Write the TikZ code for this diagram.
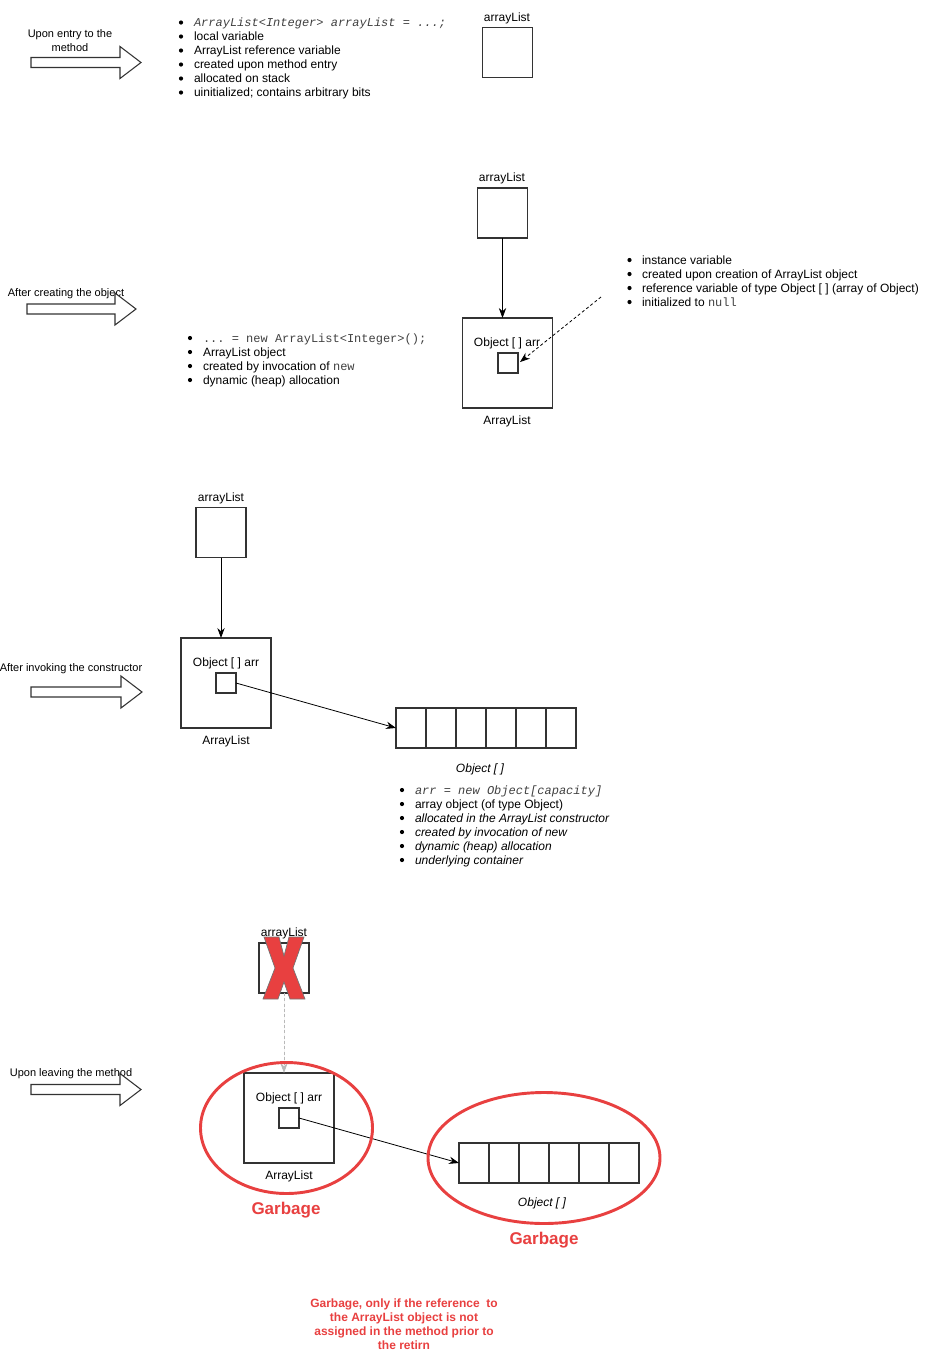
\documentclass[tikz,border=0pt]{standalone}
\usepackage{fontspec}
\setmainfont{Liberation Sans}
\setmonofont{Liberation Mono}
\usetikzlibrary{arrows.meta,calc}
\definecolor{gred}{RGB}{232,64,64}
\definecolor{lgray}{RGB}{185,185,185}
\newcommand\harrow[3]{%
  \draw[hollow] (#1,{#3-5}) -- ({#2-21},{#3-5}) -- ({#2-21},{#3-16}) -- (#2,#3)
    -- ({#2-21},{#3+16}) -- ({#2-21},{#3+5}) -- (#1,{#3+5}) -- cycle;}
\begin{document}
\begin{tikzpicture}[x=0.75pt,y=-0.75pt,
 every node/.style={inner sep=0pt, outer sep=0pt},
 lab/.style={font=\fontsize{9}{10.5}\selectfont, text height=6.5pt, text depth=1.8pt},
 side/.style={font=\fontsize{8.25}{10.5}\selectfont, align=center},
 item/.style={font=\fontsize{9}{10.5}\selectfont, anchor=base west},
 box/.style={draw=black!80, line width=0.9pt, rectangle, fill=white},
 varbox/.style={box, minimum width=37.5pt, minimum height=37.5pt},
 objbox/.style={box, minimum width=67.5pt, minimum height=67.5pt},
 slot/.style={box, minimum width=15pt, minimum height=15pt},
 cell/.style={box, minimum width=22.5pt, minimum height=30pt},
 ptr/.style={-{Stealth[length=7.5pt,width=5.5pt]}, line width=0.6pt},
 hollow/.style={draw=black!80, line width=0.8pt, fill=white},
 garb/.style={draw=gred, line width=2.2pt},
 gtext/.style={text=gred, font=\bfseries\fontsize{12.75}{14}\selectfont}
]
\useasboundingbox (0,0) rectangle (927,1354);

% ---------------- Section 1 ----------------
\node[side] (t1) at (70,41) {Upon entry to the\\method};
\harrow{31}{141}{62.5}
\foreach \t [count=\i] in {{{\ttfamily\itshape\color{black!75}ArrayList<Integer> arrayList = ...;}},
  local variable, ArrayList reference variable, created upon method entry,
  allocated on stack, uinitialized; contains arbitrary bits} {
  \fill (181,{22.5+14*(\i-1)}) circle (2.1);
  \node[item] (la\i) at (194,{22.5+14*(\i-1)+4.3}) {\t};
}
\node[varbox] (v1) at (507.5,52.5) {};
\node[lab] (v1l) at (507,18) {arrayList};

% ---------------- Section 2 ----------------
\node[side] (t2) at (66,294) {After creating the object};
\harrow{27}{136}{309}
\node[varbox] (v2) at (502.5,213) {};
\node[lab] (v2l) at (502,178) {arrayList};
\node[objbox] (o2) at (507.5,363) {};
\node[lab] (o2t) at (507,343) {Object [ ] arr};
\node[slot] (s2) at (508,363) {};
\node[lab] (o2l) at (507,421) {ArrayList};
\draw[ptr] (v2.south) -- (v2.south |- o2.north);
\coordinate (d0) at (601,297);
\draw[ptr, dash pattern=on 2.2pt off 1.8pt] (d0) -- ($(s2.east)+(2,-1)$);
\foreach \t [count=\i] in {{{\ttfamily\color{black!75}... = new ArrayList<Integer>();}},
  ArrayList object, {created by invocation of {\ttfamily\color{black!75}new}},
  dynamic (heap) allocation} {
  \fill (190,{338+14*(\i-1)}) circle (2.1);
  \node[item] (lb\i) at (203,{338+14*(\i-1)+4.3}) {\t};
}
\foreach \t [count=\i] in {instance variable, created upon creation of ArrayList object,
  reference variable of type Object [ ] (array of Object),
  {initialized to {\ttfamily\color{black!75}null}}} {
  \fill (629.5,{260+14*(\i-1)}) circle (2.1);
  \node[item] (lc\i) at (642,{260+14*(\i-1)+4.3}) {\t};
}

% ---------------- Section 3 ----------------
\node[side] (t3) at (71,669) {After invoking the constructor};
\harrow{31}{142}{692}
\node[varbox] (v3) at (221,532.5) {};
\node[lab] (v3l) at (221,498) {arrayList};
\node[objbox] (o3) at (226,683) {};
\node[lab] (o3t) at (226,663) {Object [ ] arr};
\node[slot] (s3) at (226,683) {};
\node[lab] (o3l) at (226,741) {ArrayList};
\foreach \i in {1,...,6} { \node[cell] (c\i) at ({411+30*(\i-1)},728) {}; }
\node[lab, font=\itshape\fontsize{9}{10.5}\selectfont] (c0l) at (480,769) {Object [ ]};
\draw[ptr] (v3.south) -- (v3.south |- o3.north);
\draw[ptr] (s3.east) -- (c1.west);
\foreach \t [count=\i] in {{{\ttfamily\itshape\color{black!75}arr = new Object[capacity]}},
  array object (of type Object), {{\itshape allocated in the ArrayList constructor}},
  {{\itshape created by invocation of new}}, {{\itshape dynamic (heap) allocation}},
  {{\itshape underlying container}}} {
  \fill (402,{790+14*(\i-1)}) circle (2.1);
  \node[item] (ld\i) at (415,{790+14*(\i-1)+4.3}) {\t};
}

% ---------------- Section 4 ----------------
\node[side] (t4) at (71,1074) {Upon leaving the method};
\harrow{31}{141}{1089.5}
\node[varbox] (v4) at (284,968) {};
\node[lab] (v4l) at (284,933) {arrayList};
\filldraw[fill=gred, draw=black!55, line width=0.5pt]
  (264,937) -- (279,937) -- (284,956) -- (289,937) -- (304,937) -- (293,968)
  -- (305,999) -- (290,999) -- (284,982) -- (278,999) -- (263,999) -- (275,968) -- cycle;
\node[objbox] (o4) at (289,1118) {};
\node[lab] (o4t) at (289,1098) {Object [ ] arr};
\node[slot] (s4) at (289,1118) {};
\node[lab] (o4l) at (289,1176) {ArrayList};
\foreach \i in {1,...,6} { \node[cell] (d\i) at ({474+30*(\i-1)},1163) {}; }
\node[lab, font=\itshape\fontsize{9}{10.5}\selectfont] (d0l) at (542,1203) {Object [ ]};
\draw[ptr, draw=lgray, fill=lgray, dash pattern=on 2.2pt off 1.8pt] (v4.south) -- (v4.south |- o4.north);
\draw[ptr] (s4.east) -- (d1.west);
\draw[garb] (286.5,1128) ellipse [x radius=86, y radius=65.5];
\draw[garb] (544,1158) ellipse [x radius=116, y radius=65.5];
\node[gtext] (g1) at (286,1210) {Garbage};
\node[gtext] (g2) at (544,1240) {Garbage};
\node[text=gred, font=\bfseries\fontsize{9}{10.5}\selectfont, align=center] (note) at (404,1324)
  {Garbage, only if the reference\ \ to\\the ArrayList object is not\\assigned in the method prior to\\the retirn};
\end{tikzpicture}
\end{document}
